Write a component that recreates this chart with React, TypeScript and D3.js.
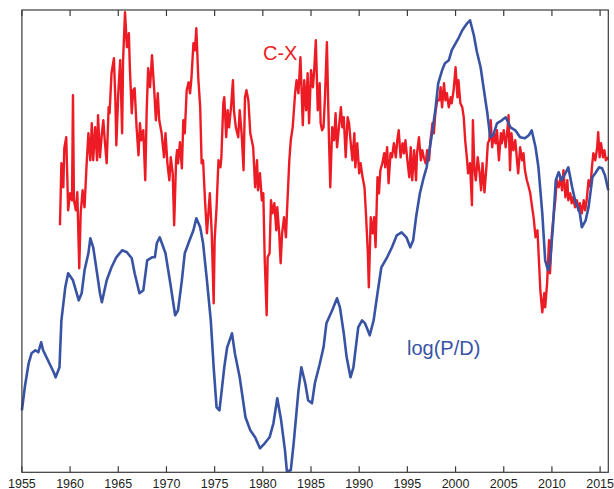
import React, { useEffect, useRef } from 'react';
import * as d3 from 'd3';

// log(P/D), blue (year, level above axis floor)
const pdSeries: [number, number][] = [
  [1955.0, 62], [1955.3, 85], [1955.7, 109], [1956.0, 119], [1956.4, 122], [1956.7, 120],
  [1957.0, 130], [1957.2, 122], [1957.7, 112], [1958.3, 100], [1958.5, 95], [1958.9, 105],
  [1959.1, 152], [1959.5, 185], [1959.8, 199], [1960.3, 192], [1960.9, 172], [1961.2, 179],
  [1961.5, 202], [1961.9, 219], [1962.1, 234], [1962.4, 225], [1962.8, 199], [1963.1, 179],
  [1963.3, 170], [1963.8, 192], [1964.3, 205], [1964.8, 215], [1965.4, 222], [1965.9, 220],
  [1966.4, 214], [1966.7, 199], [1967.2, 179], [1967.6, 182], [1968.0, 212], [1968.5, 215],
  [1968.8, 215], [1969.0, 229], [1969.3, 235], [1969.9, 219], [1970.4, 189], [1970.9, 157],
  [1971.2, 162], [1971.6, 192], [1971.9, 219], [1972.4, 232], [1972.8, 242], [1973.1, 254],
  [1973.5, 245], [1973.8, 229], [1974.2, 192], [1974.6, 152], [1974.9, 105], [1975.2, 65],
  [1975.5, 62], [1975.7, 79], [1976.0, 105], [1976.3, 125], [1976.8, 139], [1977.1, 119],
  [1977.6, 95], [1978.2, 55], [1978.7, 42], [1979.2, 35], [1979.7, 24], [1980.2, 29],
  [1980.7, 35], [1981.1, 49], [1981.5, 74], [1981.9, 52], [1982.3, 22], [1982.5, 1],
  [1982.9, 2], [1983.2, 29], [1983.7, 82], [1984.0, 105], [1984.4, 89], [1984.7, 72],
  [1985.1, 69], [1985.4, 89], [1985.9, 108], [1986.3, 125], [1986.6, 149], [1987.2, 162],
  [1987.7, 174], [1988.0, 165], [1988.4, 139], [1988.7, 115], [1989.1, 95], [1989.4, 105],
  [1989.9, 145], [1990.3, 152], [1990.6, 149], [1991.1, 137], [1991.5, 152], [1991.9, 179],
  [1992.3, 205], [1992.9, 215], [1993.4, 225], [1993.9, 237], [1994.4, 240], [1994.9, 235],
  [1995.3, 225], [1995.6, 232], [1995.9, 255], [1996.3, 279], [1996.7, 295], [1997.0, 305],
  [1997.5, 335], [1997.9, 362], [1998.2, 389], [1998.6, 402], [1998.9, 409], [1999.3, 412],
  [1999.6, 422], [2000.0, 429], [2000.3, 434], [2000.7, 442], [2001.2, 449], [2001.5, 452],
  [2001.9, 437], [2002.2, 421], [2002.6, 405], [2002.9, 385], [2003.3, 359], [2003.6, 335],
  [2003.9, 337], [2004.3, 349], [2004.8, 352], [2005.2, 355], [2005.7, 345], [2006.2, 342],
  [2006.7, 335], [2007.2, 334], [2007.6, 337], [2007.9, 342], [2008.3, 325], [2008.6, 305],
  [2009.0, 259], [2009.3, 212], [2009.6, 202], [2009.8, 209], [2010.1, 245], [2010.4, 292],
  [2010.7, 300], [2011.0, 292], [2011.4, 299], [2011.7, 305], [2012.1, 285], [2012.4, 272],
  [2012.9, 259], [2013.1, 245], [2013.5, 252], [2013.8, 265], [2014.2, 295], [2014.5, 299],
  [2014.9, 305], [2015.2, 304], [2015.5, 297], [2015.85, 282],
];

// C-X, red
const cxSeries: [number, number][] = [
  [1958.95, 247], [1959.1, 309], [1959.3, 285], [1959.4, 324], [1959.6, 335], [1959.7, 299],
  [1959.8, 262], [1960.0, 279], [1960.2, 272], [1960.3, 377], [1960.4, 272], [1960.6, 262],
  [1960.75, 280], [1960.95, 204], [1961.1, 259], [1961.3, 282], [1961.5, 265], [1961.7, 305],
  [1961.9, 339], [1962.1, 312], [1962.25, 349], [1962.4, 312], [1962.6, 345], [1962.8, 312],
  [1962.9, 357], [1963.1, 315], [1963.3, 339], [1963.45, 352], [1963.6, 332], [1963.8, 309],
  [1964.0, 365], [1964.1, 359], [1964.3, 399], [1964.55, 414], [1964.7, 372], [1964.8, 327],
  [1965.0, 379], [1965.2, 412], [1965.4, 339], [1965.5, 412], [1965.7, 460], [1965.9, 425],
  [1966.1, 439], [1966.2, 405], [1966.4, 359], [1966.55, 382], [1966.7, 384], [1966.9, 345],
  [1967.1, 317], [1967.25, 349], [1967.4, 332], [1967.6, 342], [1967.8, 292], [1967.95, 362],
  [1968.1, 404], [1968.3, 385], [1968.5, 417], [1968.75, 379], [1968.9, 352], [1969.1, 379],
  [1969.25, 352], [1969.5, 339], [1969.75, 315], [1969.9, 339], [1970.1, 309], [1970.3, 292],
  [1970.45, 315], [1970.65, 299], [1970.8, 247], [1971.0, 312], [1971.1, 322], [1971.2, 309],
  [1971.4, 330], [1971.6, 304], [1971.75, 352], [1971.9, 339], [1972.1, 382], [1972.3, 390],
  [1972.45, 379], [1972.6, 395], [1972.8, 429], [1972.95, 422], [1973.1, 444], [1973.3, 395],
  [1973.5, 365], [1973.65, 309], [1973.8, 312], [1974.0, 272], [1974.2, 239], [1974.35, 259],
  [1974.5, 279], [1974.7, 239], [1974.9, 169], [1975.0, 232], [1975.2, 265], [1975.4, 312],
  [1975.6, 305], [1975.7, 315], [1975.9, 369], [1976.0, 375], [1976.2, 335], [1976.35, 362],
  [1976.5, 345], [1976.7, 365], [1976.9, 392], [1977.0, 362], [1977.2, 345], [1977.45, 335],
  [1977.6, 362], [1977.8, 339], [1978.0, 302], [1978.15, 375], [1978.3, 382], [1978.5, 372],
  [1978.7, 339], [1978.85, 332], [1979.0, 325], [1979.2, 285], [1979.4, 312], [1979.5, 282],
  [1979.7, 299], [1979.9, 272], [1980.05, 279], [1980.2, 212], [1980.4, 157], [1980.5, 215],
  [1980.7, 219], [1980.85, 272], [1981.0, 259], [1981.2, 269], [1981.4, 242], [1981.5, 265],
  [1981.7, 239], [1981.85, 209], [1982.0, 239], [1982.2, 255], [1982.4, 235], [1982.5, 259],
  [1982.75, 312], [1982.9, 332], [1983.1, 345], [1983.35, 379], [1983.5, 392], [1983.7, 379],
  [1983.9, 415], [1984.0, 389], [1984.15, 347], [1984.3, 392], [1984.5, 362], [1984.65, 399],
  [1984.8, 349], [1985.0, 402], [1985.2, 385], [1985.35, 405], [1985.5, 432], [1985.7, 362],
  [1985.9, 389], [1986.0, 349], [1986.15, 342], [1986.3, 345], [1986.45, 375], [1986.65, 430],
  [1986.85, 339], [1987.0, 285], [1987.2, 345], [1987.4, 332], [1987.55, 359], [1987.7, 325],
  [1987.9, 345], [1988.1, 365], [1988.25, 345], [1988.4, 355], [1988.6, 315], [1988.8, 355],
  [1988.95, 349], [1989.1, 332], [1989.3, 312], [1989.5, 339], [1989.6, 305], [1989.8, 329],
  [1990.0, 299], [1990.15, 309], [1990.35, 295], [1990.55, 285], [1990.7, 259], [1990.9, 219],
  [1991.0, 185], [1991.2, 255], [1991.4, 239], [1991.55, 255], [1991.7, 225], [1991.9, 295],
  [1992.05, 279], [1992.2, 302], [1992.4, 309], [1992.6, 319], [1992.7, 305], [1992.9, 325],
  [1993.05, 289], [1993.25, 319], [1993.4, 315], [1993.6, 329], [1993.8, 315], [1993.95, 332],
  [1994.1, 342], [1994.3, 315], [1994.5, 329], [1994.65, 319], [1994.8, 332], [1995.0, 312],
  [1995.2, 295], [1995.35, 325], [1995.5, 292], [1995.7, 322], [1995.9, 292], [1996.0, 319],
  [1996.2, 335], [1996.4, 312], [1996.55, 322], [1996.7, 315], [1996.9, 309], [1997.05, 322],
  [1997.25, 312], [1997.4, 332], [1997.6, 349], [1997.75, 339], [1997.9, 359], [1998.1, 372],
  [1998.3, 372], [1998.45, 385], [1998.6, 365], [1998.8, 389], [1998.95, 372], [1999.1, 379],
  [1999.3, 365], [1999.5, 375], [1999.6, 369], [1999.8, 382], [2000.0, 405], [2000.2, 375],
  [2000.3, 392], [2000.5, 369], [2000.7, 365], [2000.85, 355], [2001.0, 332], [2001.2, 312],
  [2001.3, 299], [2001.5, 309], [2001.7, 267], [2001.8, 352], [2001.95, 305], [2002.1, 292],
  [2002.3, 315], [2002.5, 299], [2002.65, 282], [2002.8, 309], [2003.0, 280], [2003.2, 305],
  [2003.35, 329], [2003.5, 332], [2003.65, 352], [2003.8, 325], [2004.0, 339], [2004.15, 329],
  [2004.3, 342], [2004.5, 312], [2004.7, 339], [2004.8, 329], [2005.0, 342], [2005.2, 325],
  [2005.4, 345], [2005.5, 357], [2005.65, 302], [2005.8, 339], [2006.0, 322], [2006.2, 332],
  [2006.35, 315], [2006.5, 299], [2006.7, 325], [2006.9, 312], [2007.05, 319], [2007.2, 302],
  [2007.4, 292], [2007.6, 285], [2007.75, 279], [2007.95, 265], [2008.1, 255], [2008.3, 235],
  [2008.5, 242], [2008.6, 222], [2008.8, 182], [2009.0, 160], [2009.2, 179], [2009.3, 165],
  [2009.5, 189], [2009.7, 232], [2009.8, 199], [2010.0, 239], [2010.2, 259], [2010.35, 272],
  [2010.5, 292], [2010.7, 285], [2010.9, 295], [2011.05, 282], [2011.2, 302], [2011.4, 275],
  [2011.6, 292], [2011.7, 272], [2011.9, 279], [2012.05, 269], [2012.2, 275], [2012.4, 265],
  [2012.6, 272], [2012.75, 262], [2012.9, 269], [2013.1, 259], [2013.3, 272], [2013.45, 262],
  [2013.6, 272], [2013.8, 292], [2014.0, 285], [2014.15, 305], [2014.3, 319], [2014.5, 312],
  [2014.7, 325], [2014.8, 340], [2014.95, 315], [2015.1, 329], [2015.3, 315], [2015.45, 322],
  [2015.6, 312], [2015.85, 315],
];

const yearTicks = [1955, 1960, 1965, 1970, 1975, 1980, 1985, 1990, 1995, 2000, 2005, 2010, 2015];

const W = 614;
const H = 489;

const App: React.FC = () => {
  const svgRef = useRef<SVGSVGElement>(null);

  useEffect(() => {
    if (!svgRef.current) return;
    const svg = d3.select(svgRef.current);
    svg.selectAll('*').remove();

    const left = 21.9, right = 608.3, top = 10, bottom = 472.3;

    const x = d3.scaleLinear().domain([1955, 2015.85]).range([left, right]);
    const y = d3.scaleLinear().domain([0, 462.3]).range([bottom, top]);

    const line = d3.line<[number, number]>()
      .x(d => x(d[0]))
      .y(d => y(d[1]));

    // red first, blue drawn over it
    svg.append('path')
      .datum(cxSeries)
      .attr('fill', 'none')
      .attr('stroke', '#ED1C24')
      .attr('stroke-width', 2.4)
      .attr('stroke-linejoin', 'round')
      .attr('d', line);

    svg.append('path')
      .datum(pdSeries)
      .attr('fill', 'none')
      .attr('stroke', '#3953A4')
      .attr('stroke-width', 2.6)
      .attr('stroke-linejoin', 'round')
      .attr('d', line);

    // box frame
    svg.append('rect')
      .attr('x', left).attr('y', top)
      .attr('width', right - left).attr('height', bottom - top)
      .attr('fill', 'none')
      .attr('stroke', '#3a3a3a')
      .attr('stroke-width', 1.2);

    // ticks inside, top and bottom
    yearTicks.forEach(t => {
      svg.append('line')
        .attr('x1', x(t)).attr('x2', x(t))
        .attr('y1', bottom).attr('y2', bottom - 6)
        .attr('stroke', '#3a3a3a').attr('stroke-width', 1.2);
      svg.append('line')
        .attr('x1', x(t)).attr('x2', x(t))
        .attr('y1', top).attr('y2', top + 6)
        .attr('stroke', '#3a3a3a').attr('stroke-width', 1.2);
      svg.append('text')
        .attr('x', x(t))
        .attr('y', 487.5)
        .attr('text-anchor', 'middle')
        .attr('font-family', 'Liberation Sans, Arial, sans-serif')
        .attr('font-size', 12.5)
        .attr('fill', '#231F20')
        .text(String(t));
    });

    svg.append('text')
      .attr('x', 263)
      .attr('y', 60)
      .attr('font-family', 'Liberation Sans, Arial, sans-serif')
      .attr('font-size', 20)
      .attr('fill', '#ED1C24')
      .text('C-X');

    svg.append('text')
      .attr('x', 407)
      .attr('y', 355)
      .attr('font-family', 'Liberation Sans, Arial, sans-serif')
      .attr('font-size', 20)
      .attr('fill', '#3953A4')
      .text('log(P/D)');
  }, []);

  return (
    <svg
      ref={svgRef}
      width={W}
      height={H}
      viewBox={`0 0 ${W} ${H}`}
      style={{ position: 'absolute', left: 0, top: 0, background: '#ffffff' }}
    />
  );
};

export default App;
